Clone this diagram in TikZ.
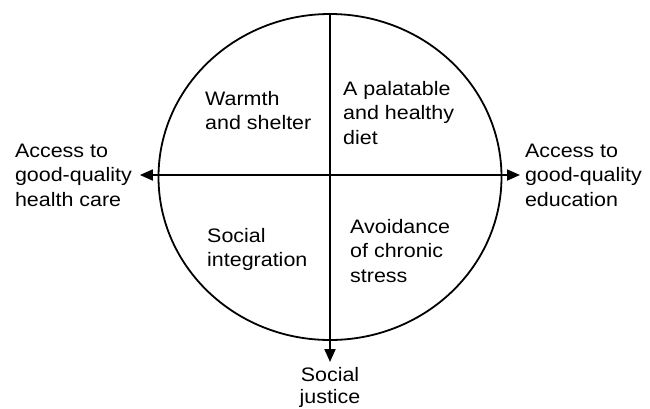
\documentclass[tikz,border=0pt]{standalone}
\usepackage{fontspec}
\setmainfont{Liberation Sans}[FakeStretch=1.1]
\usetikzlibrary{shapes.geometric, arrows.meta, positioning}
\tikzset{
  quarter/.style={align=left, anchor=north west, inner sep=0pt, font=\fontsize{19.5}{24.5}\selectfont},
  outer/.style={align=left, inner sep=0pt, font=\fontsize{19.5}{24.5}\selectfont},
  axis/.style={line width=1.8pt, >={Triangle[length=13pt,width=11pt]}}
}

\begin{document}
\begin{tikzpicture}[x=1pt, y=-1pt]
  \useasboundingbox (0,0) rectangle (650,408);

  % the wheel
  \node[ellipse, draw, line width=1.8pt, minimum width=343pt, minimum height=326pt, inner sep=0pt] (ring) at (330,177) {};

  % the four quarters
  \node[quarter] (shelter) at (205,91) {Warmth\\and shelter};
  \node[quarter] (diet) at (343,81) {A palatable\\and healthy\\diet};
  \node[quarter] (integration) at (207,228) {Social\\integration};
  \node[quarter] (stress) at (350,219) {Avoidance\\of chronic\\stress};

  % outside the wheel
  \node[outer, anchor=west, outer sep=8pt] (healthcare) at (7,175) {Access to\\good-quality\\health care};
  \node[outer, anchor=west, outer sep=5pt] (education) at (520,175) {Access to\\good-quality\\education};
  \node[outer, align=center, anchor=north, outer sep=5pt, font=\fontsize{19.5}{22}\selectfont] (justice) at (330,362) {Social\\justice};

  % axes
  \draw[axis, <->] (healthcare.east) -- (education.west);
  \draw[axis, ->] (ring.north) -- (justice.north);
\end{tikzpicture}
\end{document}
